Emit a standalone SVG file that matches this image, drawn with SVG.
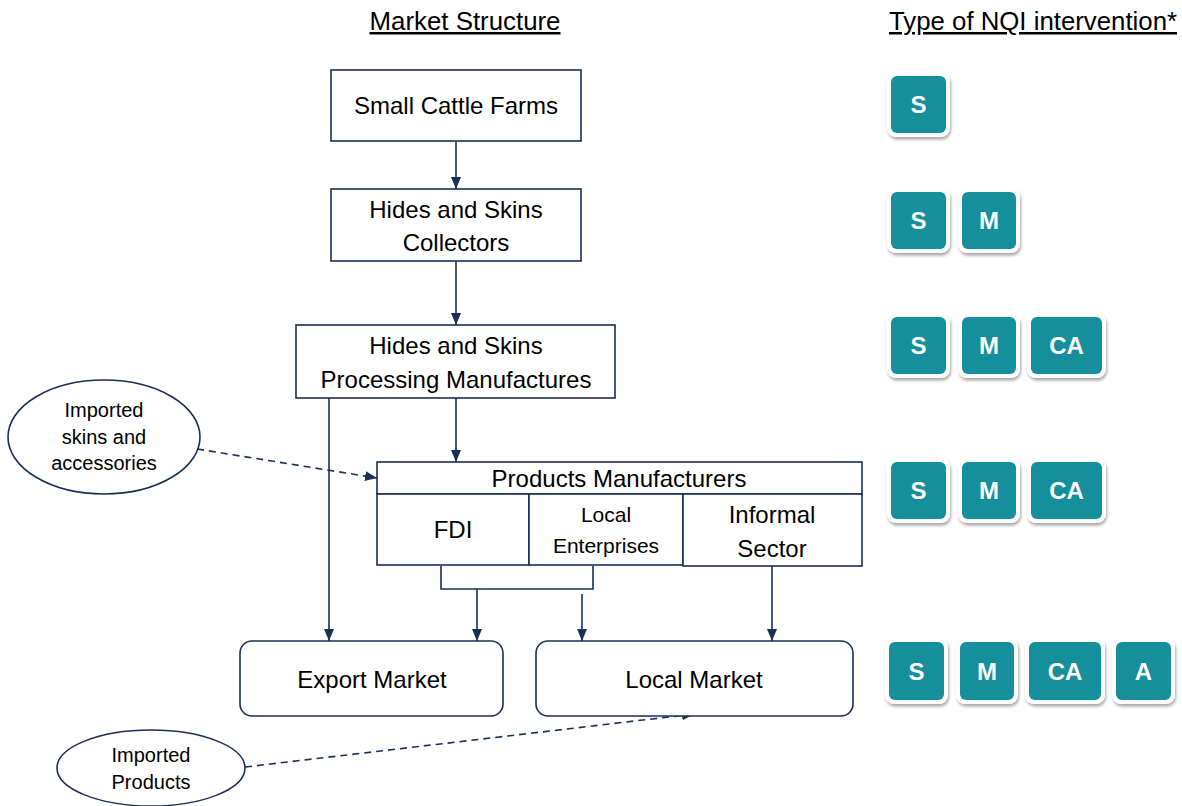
<svg xmlns="http://www.w3.org/2000/svg" width="1182" height="806" viewBox="0 0 1182 806">
  <style>
    .lbl { font-family: "Liberation Sans", Arial, sans-serif; fill: #000; text-anchor: middle; }
    .hd { font-size: 25px; text-decoration: underline; }
    .t24 { font-size: 24px; }
    .t21 { font-size: 21px; }
    .t20 { font-size: 20px; }
    .box { fill: #fff; stroke: #1a2f55; stroke-width: 1.6; }
    .wire { fill: none; stroke: #1a2f55; stroke-width: 1.6; }
    .dash { fill: none; stroke: #1a2f55; stroke-width: 1.6; stroke-dasharray: 7 5; }
    .chip-bg { fill: #fff; filter: url(#shadow); }
    .chip { fill: #148f9b; }
    .chip-t { font-family: "Liberation Sans", Arial, sans-serif; font-weight: bold; font-size: 24px; fill: #fff; text-anchor: middle; }
  </style>
  <defs>
    <marker id="arrow" markerUnits="userSpaceOnUse" markerWidth="12" markerHeight="12" viewBox="0 0 12 12" refX="12" refY="6" orient="auto">
      <path d="M0,1 L12,6 L0,11 Z" fill="#1a2f55"/>
    </marker>
    <filter id="shadow" x="-20%" y="-20%" width="150%" height="150%">
      <feDropShadow dx="1" dy="2.5" stdDeviation="1.6" flood-color="#000" flood-opacity="0.35"/>
    </filter>
  </defs>

  <!-- column headings -->
  <text class="lbl hd" x="465" y="30" textLength="191" lengthAdjust="spacingAndGlyphs">Market Structure</text>
  <text class="lbl hd" x="1033" y="30" textLength="288" lengthAdjust="spacingAndGlyphs">Type of NQI intervention*</text>

  <!-- connectors -->
  <g id="connectors">
    <line class="wire" x1="456" y1="142" x2="456" y2="189" marker-end="url(#arrow)"/>
    <line class="wire" x1="456" y1="261" x2="456" y2="325" marker-end="url(#arrow)"/>
    <line class="wire" x1="329" y1="398" x2="329" y2="641" marker-end="url(#arrow)"/>
    <line class="wire" x1="456" y1="398" x2="456" y2="462" marker-end="url(#arrow)"/>
    <polyline class="wire" points="441,566 441,589 593,589 593,566"/>
    <line class="wire" x1="477" y1="589" x2="477" y2="641" marker-end="url(#arrow)"/>
    <line class="wire" x1="582" y1="594" x2="582" y2="641" marker-end="url(#arrow)"/>
    <line class="wire" x1="772" y1="566" x2="772" y2="641" marker-end="url(#arrow)"/>
    <line class="dash" x1="197" y1="449" x2="377" y2="478" marker-end="url(#arrow)"/>
    <line class="dash" x1="245" y1="767" x2="694" y2="714" marker-end="url(#arrow)"/>
  </g>

  <!-- market structure nodes -->
  <g id="small-cattle-farms">
    <rect class="box" x="331" y="70" width="250" height="71"/>
    <text class="lbl t24" x="456" y="114">Small Cattle Farms</text>
  </g>
  <g id="collectors">
    <rect class="box" x="331" y="189" width="250" height="72"/>
    <text class="lbl t24" x="456" y="218">Hides and Skins</text>
    <text class="lbl t24" x="456" y="251">Collectors</text>
  </g>
  <g id="processing">
    <rect class="box" x="296" y="325" width="319" height="73"/>
    <text class="lbl t24" x="456" y="354">Hides and Skins</text>
    <text class="lbl t24" x="456" y="388">Processing Manufactures</text>
  </g>
  <g id="products-manufacturers">
    <rect class="box" x="377" y="462" width="485" height="32"/>
    <text class="lbl t24" x="619" y="487">Products Manufacturers</text>
  </g>
  <g id="fdi">
    <rect class="box" x="377" y="494" width="152" height="71"/>
    <text class="lbl t24" x="453" y="538">FDI</text>
  </g>
  <g id="local-enterprises">
    <rect class="box" x="529" y="494" width="154" height="71"/>
    <text class="lbl t21" x="606" y="522">Local</text>
    <text class="lbl t21" x="606" y="553">Enterprises</text>
  </g>
  <g id="informal-sector">
    <rect class="box" x="683" y="494" width="179" height="72"/>
    <text class="lbl t24" x="772" y="523">Informal</text>
    <text class="lbl t24" x="772" y="557">Sector</text>
  </g>
  <g id="export-market">
    <rect class="box" x="240" y="641" width="263" height="75" rx="12"/>
    <text class="lbl t24" x="372" y="688">Export Market</text>
  </g>
  <g id="local-market">
    <rect class="box" x="536" y="641" width="317" height="75" rx="12"/>
    <text class="lbl t24" x="694" y="688">Local Market</text>
  </g>
  <g id="imported-skins">
    <ellipse class="box" cx="104" cy="437" rx="96" ry="57"/>
    <text class="lbl t20" x="104" y="417">Imported</text>
    <text class="lbl t20" x="104" y="444">skins and</text>
    <text class="lbl t20" x="104" y="470">accessories</text>
  </g>
  <g id="imported-products">
    <ellipse class="box" cx="151" cy="768" rx="94" ry="38"/>
    <text class="lbl t20" x="151" y="762">Imported</text>
    <text class="lbl t20" x="151" y="789">Products</text>
  </g>

  <!-- NQI intervention chips -->
  <g id="nqi-row1">
    <rect class="chip-bg" x="887" y="72" width="63" height="65" rx="9"/>
    <rect class="chip" x="891" y="76" width="55" height="57" rx="6"/>
    <text class="chip-t" x="918.5" y="113">S</text>
  </g>
  <g id="nqi-row2">
    <rect class="chip-bg" x="887" y="188" width="63" height="65" rx="9"/>
    <rect class="chip" x="891" y="192" width="55" height="57" rx="6"/>
    <text class="chip-t" x="918.5" y="229">S</text>
    <rect class="chip-bg" x="958" y="188" width="62" height="65" rx="9"/>
    <rect class="chip" x="962" y="192" width="54" height="57" rx="6"/>
    <text class="chip-t" x="989" y="229">M</text>
  </g>
  <g id="nqi-row3">
    <rect class="chip-bg" x="887" y="313" width="63" height="65" rx="9"/>
    <rect class="chip" x="891" y="317" width="55" height="57" rx="6"/>
    <text class="chip-t" x="918.5" y="354">S</text>
    <rect class="chip-bg" x="958" y="313" width="62" height="65" rx="9"/>
    <rect class="chip" x="962" y="317" width="54" height="57" rx="6"/>
    <text class="chip-t" x="989" y="354">M</text>
    <rect class="chip-bg" x="1027" y="313" width="79" height="65" rx="9"/>
    <rect class="chip" x="1031" y="317" width="71" height="57" rx="6"/>
    <text class="chip-t" x="1066.5" y="354">CA</text>
  </g>
  <g id="nqi-row4">
    <rect class="chip-bg" x="887" y="458" width="63" height="65" rx="9"/>
    <rect class="chip" x="891" y="462" width="55" height="57" rx="6"/>
    <text class="chip-t" x="918.5" y="499">S</text>
    <rect class="chip-bg" x="958" y="458" width="62" height="65" rx="9"/>
    <rect class="chip" x="962" y="462" width="54" height="57" rx="6"/>
    <text class="chip-t" x="989" y="499">M</text>
    <rect class="chip-bg" x="1027" y="458" width="79" height="65" rx="9"/>
    <rect class="chip" x="1031" y="462" width="71" height="57" rx="6"/>
    <text class="chip-t" x="1066.5" y="499">CA</text>
  </g>
  <g id="nqi-row5">
    <rect class="chip-bg" x="885" y="638" width="63" height="66" rx="9"/>
    <rect class="chip" x="889" y="642" width="55" height="58" rx="6"/>
    <text class="chip-t" x="916.5" y="680">S</text>
    <rect class="chip-bg" x="956" y="638" width="62" height="66" rx="9"/>
    <rect class="chip" x="960" y="642" width="54" height="58" rx="6"/>
    <text class="chip-t" x="987" y="680">M</text>
    <rect class="chip-bg" x="1025" y="638" width="80" height="66" rx="9"/>
    <rect class="chip" x="1029" y="642" width="72" height="58" rx="6"/>
    <text class="chip-t" x="1065" y="680">CA</text>
    <rect class="chip-bg" x="1112" y="638" width="63" height="66" rx="9"/>
    <rect class="chip" x="1116" y="642" width="55" height="58" rx="6"/>
    <text class="chip-t" x="1143.5" y="680">A</text>
  </g>
</svg>
